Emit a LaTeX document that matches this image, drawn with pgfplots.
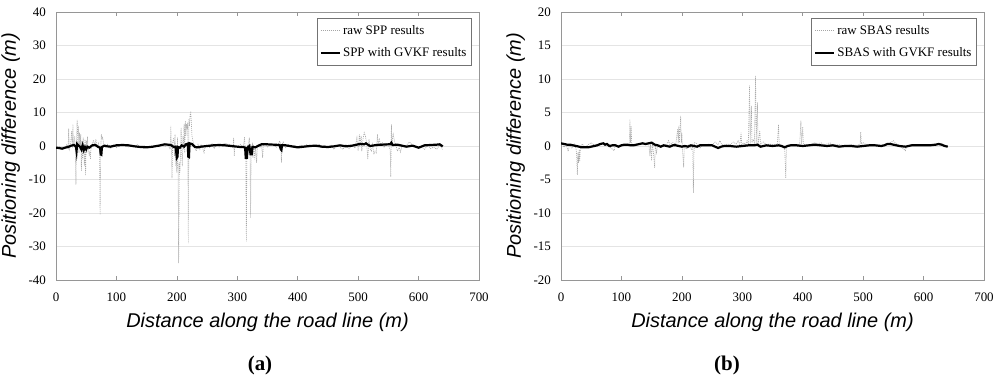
\documentclass[border=0pt]{standalone}
\usepackage{fontspec}
\setmainfont{Liberation Serif}
\newfontfamily\arial{Liberation Sans}
\usepackage{pgfplots}
\pgfplotsset{compat=1.18}
\definecolor{gridc}{RGB}{228,228,228}
\definecolor{framec}{RGB}{150,150,150}
\definecolor{rawc}{RGB}{165,165,165}
\pgfplotsset{
  myaxis/.style={
    scale only axis, width=423bp, height=268bp,
    anchor=south west,
    xmin=0, xmax=700, xtick={0,100,...,700},
    /pgf/number format/assume math mode=true,
    axis line style={framec, line width=0.8bp},
    ymajorgrids, major grid style={gridc, line width=0.8bp},
    major tick length=4bp, xtick align=inside,
    tick style={framec, line width=0.6bp},
    ytick style={draw=none},
    tick label style={font=\fontsize{13}{15}\selectfont},
    yticklabel style={inner sep=0pt, anchor=east, xshift=-10bp},
    xticklabel style={inner sep=0pt, anchor=north, yshift=-13bp},
    label style={font=\arial\itshape\fontsize{20}{24}\selectfont},
    xlabel style={at={(axis description cs:0.5,-0.157)}, anchor=center},
    ylabel style={at={(axis description cs:-0.107,0.5)}, anchor=center, rotate=0},
    legend style={draw=black!55, line width=0.6bp, fill=white,
      font=\fontsize{13}{15}\selectfont, at={(rel axis cs:0.983,0.978)},
      anchor=north east, row sep=8bp, inner xsep=3bp, inner ysep=5bp},
    legend cell align=left,
    legend image code/.code={\draw[##1] (0bp,0bp) -- (19bp,0bp);},
  },
  rawline/.style={rawc, line width=0.6bp, dash pattern=on 1bp off 1bp},
  filtline/.style={black, line width=2.2bp},
}
\begin{document}
\begin{tikzpicture}[x=1bp,y=1bp]
\useasboundingbox (0,0) rectangle (1000,376);
\begin{axis}[myaxis, at={(56bp,96bp)}, ymin=-40, ymax=40, ytick={-40,-30,...,40},
  xlabel={Distance along the road line (m)}, ylabel={Positioning difference (m)}]
\addplot[rawline] coordinates {
(0,-0.5)(3,-0.8)(6,-0.3)(9,-1.0)(12,-0.6)(15,-0.4)(18,0.5)(20,-0.5)(21,5.2)(22,-1)(24,0.3)(26,4.5)(27,-0.5)(28,6.5)(29,0)(31,3)(32,-1.5)(33,-11.5)(34,2)(35,7.8)(36,1)(37,6)(38,-2)(39,4)(40,-1)(41,3.5)(42,-7.5)(43,1.5)(44,-4)(45,2.5)(46,-2)(47,-6)(48,2)(49,-8.8)(50,1.5)(51,-2)(52,2.8)(53,0)(55,-3)(56,-1.5)(57,-3.8)(58,-0.5)(60,0.5)(62,1.8)(64,0.2)(66,2)(68,-0.5)(70,0.8)(72,-0.5)(73,-20.5)(74,-1)(75,3.5)(76,2)(77,2.8)(79,0.5)(82,-0.3)(85,0.5)(90,-0.8)(95,0.3)(100,-0.5)(105,0.2)(110,0.6)(115,0.2)(120,-0.3)(125,0.3)(130,-0.2)(135,0.4)(140,-0.6)(145,0.2)(150,-0.5)(155,-0.3)(160,-0.6)(165,0.3)(170,-0.4)(175,0.5)(180,-0.2)(185,0.5)(189,-1)(190,6)(191,-0.5)(192,-9.6)(193,1)(195,2.5)(196,-3)(197,3.5)(198,-6)(199,-2)(200,-8)(201,2.5)(202,-7)(203,-35)(204,-5)(205,-8)(206,-3)(207,5.5)(208,-2)(209,-6)(210,3)(211,-1)(212,6.5)(213,-2)(214,7.5)(215,3)(216,6.5)(217,5)(218,7)(219,-29)(220,8)(221,6)(222,9.5)(223,10)(224,7)(225,3)(226,2)(228,0.5)(230,-0.5)(232,-1.5)(235,0.5)(238,-1)(240,0.5)(243,-0.8)(245,-2)(247,0)(250,0.3)(255,-0.5)(258,0.8)(262,-0.8)(265,0.5)(270,-0.3)(275,0.5)(280,0.8)(285,0.5)(290,0.3)(293,-0.5)(294,2.5)(295,-3)(296,0)(300,-0.3)(305,0.5)(310,-0.5)(312,2.7)(313,-0.5)(314,-1.5)(315,-28.5)(316,-1)(317,0.5)(318,-2)(319,1.5)(320,2.5)(321,-1)(322,-21.5)(323,-0.5)(324,-2)(325,1)(326,-3.5)(327,0.5)(329,-4)(330,0)(332,-5)(333,-1)(335,0.5)(338,-0.5)(340,0.5)(342,-3.5)(343,0.3)(345,1)(348,0.3)(350,-0.3)(355,0.6)(360,0.2)(365,-0.4)(370,1.5)(372,0.5)(373,-5)(374,0.5)(376,1.2)(378,0.3)(380,-0.5)(385,0.4)(390,-0.3)(395,0.2)(400,-0.5)(405,0.3)(410,-0.2)(415,0.4)(420,-0.3)(425,0.2)(430,-0.4)(435,0.5)(440,-0.3)(445,0.2)(450,-0.6)(455,0.3)(460,-1)(465,0.2)(470,-0.4)(475,-1)(480,0.5)(485,-0.8)(490,0.3)(495,-0.6)(498,2.5)(499,0.5)(500,-1.5)(502,3.5)(503,0.5)(505,3)(506,-1.5)(508,2)(510,4)(512,3)(514,1)(516,-4)(517,-0.5)(518,2)(520,-1)(522,-1.5)(524,0.5)(526,-2.5)(528,-1.5)(530,-2)(532,3.5)(533,0.5)(535,2)(537,0.5)(540,1)(543,-0.5)(546,0.8)(550,0.3)(553,-1)(554,-9.2)(555,6.5)(556,1)(558,3.5)(560,1.5)(562,0.5)(565,-1.5)(568,-0.5)(570,-1.8)(573,0.3)(576,-0.3)(580,0.3)(585,1.2)(590,0.2)(595,-0.3)(600,-0.8)(605,-0.3)(610,-1)(615,0.3)(620,-0.8)(625,-0.3)(630,-1)(635,0.3)(640,-1)
};
\addlegendentry{raw SPP results}
\addplot[filtline] coordinates {
(0,-0.5)(5,-0.6)(10,-0.8)(15,-0.5)(20,-0.3)(25,0.1)(30,0.3)(33,-0.2)(34,-1.5)(35,0.6)(37,0.2)(40,-0.3)(42,-1.0)(44,0.2)(46,-1.2)(48,-0.3)(50,-1.0)(52,-0.2)(55,-0.5)(60,0.2)(65,0.3)(70,-0.3)(73,-0.5)(74,-2.5)(75,-2.6)(76,-0.3)(80,0.1)(85,-0.1)(90,-0.2)(95,0)(100,0.2)(110,0.3)(120,0.2)(130,-0.1)(140,-0.3)(150,-0.4)(160,-0.2)(170,0.1)(180,0.5)(185,0.4)(190,0.3)(195,-0.3)(198,-0.2)(200,-3.5)(201,-3.2)(202,-0.3)(205,-0.5)(208,0.2)(212,-0.2)(215,0.5)(218,0.7)(219,-3.2)(220,-3.3)(221,0.8)(225,0.6)(230,-0.3)(235,-0.4)(240,-0.2)(250,0)(260,0.2)(270,0.3)(280,0.2)(290,0)(300,-0.2)(305,-0.3)(310,-0.3)(313,-0.5)(314,-3.5)(316,-3.5)(317,-0.5)(320,0)(322,-2.5)(324,-2.5)(325,-0.3)(330,-0.4)(335,0.1)(340,0.5)(350,0.5)(360,0.4)(370,0.3)(372,-1)(373,-1.2)(374,0.2)(380,0.2)(390,-0.1)(400,-0.4)(410,-0.2)(420,0)(430,0.1)(440,-0.2)(450,-0.3)(460,-0.1)(470,0.2)(480,-0.1)(490,0.1)(500,0.5)(505,0.6)(510,0.5)(513,0.8)(516,0.4)(520,0.0)(530,0.3)(540,0.4)(550,0.5)(553,0.5)(555,1.0)(557,0.3)(565,0.4)(570,0.2)(580,-0.2)(590,0.1)(600,-0.5)(610,0.2)(620,0.3)(630,0.4)(635,0.5)(640,-0.1)
};
\addlegendentry{SPP with GVKF results}
\end{axis}
\begin{axis}[myaxis, at={(561bp,96bp)}, ymin=-20, ymax=20, ytick={-20,-15,...,20},
  xlabel={Distance along the road line (m)}, ylabel={Positioning difference (m)}]
\addplot[rawline] coordinates {
(0,0.5)(3,0.2)(5,-0.2)(8,0.3)(12,-0.8)(14,0.2)(18,-0.3)(22,0.3)(25,-0.5)(26,-1.5)(27,-4.3)(28,-1)(29,-2.5)(30,-0.5)(31,-2.3)(32,-0.3)(35,0.3)(40,-0.2)(45,0.2)(50,0.5)(55,0.1)(60,0.3)(65,0.2)(70,0.5)(75,0.3)(80,-0.1)(88,-0.7)(90,0.2)(95,0.1)(100,0.2)(105,0.1)(110,0.3)(113,0.2)(114,4)(115,0.5)(116,3)(117,0.3)(120,0.2)(125,0.3)(130,0.2)(135,0.3)(140,0.4)(145,0.5)(147,-1.5)(148,0.3)(150,-2.2)(151,0.5)(153,-1)(155,-3.3)(156,0.2)(158,-1)(160,0.2)(165,0.1)(170,0.2)(175,0.2)(178,0.8)(180,0.2)(185,0.5)(190,0.3)(193,2.5)(194,0.5)(195,3)(196,0.5)(198,4.5)(199,0.5)(200,2)(201,-0.5)(203,-3.2)(204,0)(208,-0.5)(212,0.2)(216,-0.5)(218,0.1)(219,-7)(220,-1)(221,0.5)(225,0.3)(230,-0.3)(235,0.2)(240,0.1)(245,0.3)(250,0.1)(255,0.6)(260,0.2)(263,0.8)(266,0.2)(270,0.1)(275,0.3)(280,0.2)(285,0.6)(290,0.3)(293,0.8)(296,0.2)(298,2)(299,0.2)(302,0.5)(305,0.2)(308,0.8)(310,0.3)(312,9)(313,0.3)(315,6)(316,0.5)(318,1)(320,0.5)(322,10.5)(323,0.5)(325,6.5)(326,0.2)(329,2.3)(330,0.3)(335,0.6)(340,0.2)(345,0.3)(350,0.2)(355,0.1)(358,0.4)(360,3.2)(361,0.2)(365,0.1)(370,0)(372,-4.8)(373,-0.2)(376,0.1)(380,0.2)(385,0.1)(390,0.2)(395,0.3)(397,3.8)(398,0.3)(400,2.8)(401,0.3)(405,0.2)(410,0.1)(415,0.3)(420,0.5)(425,0.3)(430,0.5)(435,0.2)(440,0.3)(445,0.5)(450,0.1)(460,0.2)(470,0)(480,0.2)(490,0.1)(495,0.3)(496,2.1)(497,0.3)(500,0.5)(505,0.2)(510,0.1)(520,0.2)(530,0.1)(540,0.3)(545,0.5)(550,0.8)(555,0.3)(560,0.1)(570,-0.7)(572,0.1)(580,0.1)(590,0.2)(600,0.1)(610,0.1)(620,0.2)(630,0.1)(640,-0.1)
};
\addlegendentry{raw SBAS results}
\addplot[filtline] coordinates {
(0,0.4)(5,0.3)(10,0.2)(15,0.2)(20,0.1)(25,0)(30,-0.1)(35,-0.2)(40,-0.2)(45,-0.2)(50,-0.1)(55,0)(60,0.1)(65,0.3)(70,0.4)(73,0.2)(76,0.3)(80,0.0)(85,0.1)(90,0.1)(95,-0.1)(100,0.1)(105,0.2)(110,0.2)(115,0.1)(120,0.1)(125,0.2)(130,0.3)(135,0.4)(140,0.3)(145,0.4)(150,0.5)(155,0.2)(160,0.1)(165,-0.1)(170,0.1)(175,0.0)(180,-0.1)(185,0.1)(190,0.1)(195,0.0)(200,-0.1)(205,0.0)(210,-0.1)(215,0.1)(220,0.0)(225,-0.1)(230,0.1)(240,0.1)(250,0.1)(255,-0.1)(260,-0.3)(265,-0.1)(270,0.0)(280,0.0)(290,-0.1)(300,0.0)(310,0.1)(320,0.1)(325,0.2)(330,-0.1)(340,0.1)(350,0.0)(360,0.1)(365,0.0)(370,-0.2)(375,0.0)(380,0.1)(390,0.1)(400,0.0)(410,0.1)(420,0.2)(430,0.1)(440,0.0)(450,0.1)(460,-0.1)(470,0.0)(480,0.0)(490,-0.1)(500,0.0)(510,0.1)(520,0.1)(530,0.0)(535,0.1)(540,0.3)(545,0.3)(550,0.2)(560,0.0)(570,-0.1)(575,0.0)(580,0.1)(590,0.1)(600,0.1)(610,0.1)(620,0.2)(625,0.3)(630,0.2)(635,0.0)(640,-0.1)
};
\addlegendentry{SBAS with GVKF results}
\end{axis}
\node[font=\bfseries\fontsize{21}{25}\selectfont] at (260,11) {(a)};
\node[font=\bfseries\fontsize{21}{25}\selectfont] at (727,11) {(b)};
\end{tikzpicture}
\end{document}
